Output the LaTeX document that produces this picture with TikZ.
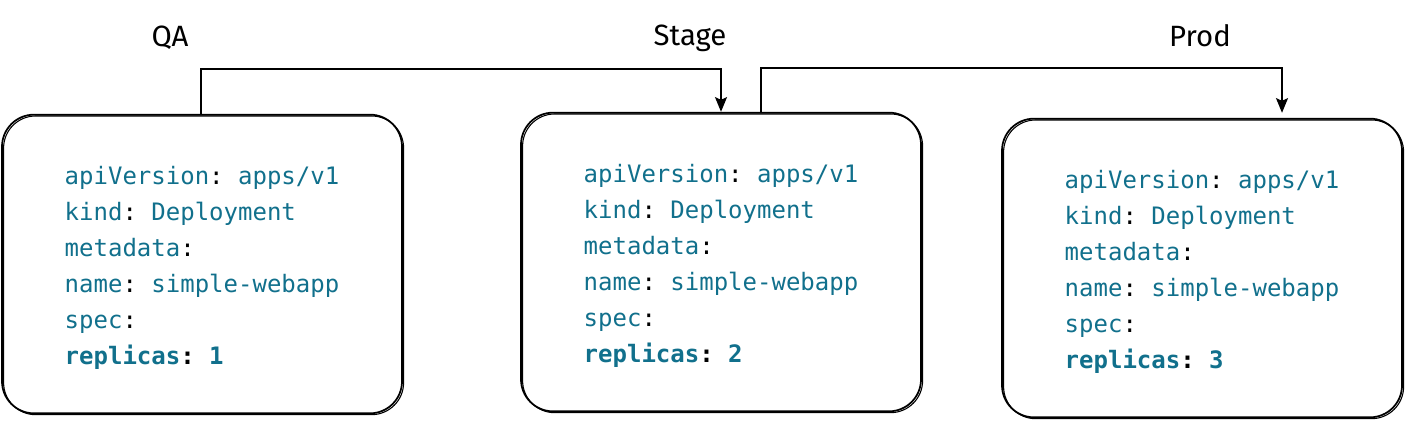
\documentclass[tikz,border=0pt]{standalone}
\usepackage{fontspec}
\setmonofont{DejaVu Sans Mono}
\newfontfamily\handfont{Fira Sans}
\usetikzlibrary{arrows.meta,positioning}

\definecolor{yamlteal}{HTML}{11708C}
\newcommand{\yk}[1]{\textcolor{yamlteal}{#1}}

\begin{document}
\begin{tikzpicture}[
        x=0.75pt, y=-0.75pt,
        yamlbox/.style={draw, line width=1.3pt, rounded corners=24pt, minimum width=300pt, minimum height=224pt, align=left, font=\ttfamily\fontsize{18}{27}\selectfont,
            postaction={draw, line width=0.8pt, rounded corners=24pt, transform canvas={shift={(1.2pt,-1pt)}}}},
        envlabel/.style={font=\handfont\fontsize{22}{26}\selectfont},
        flow/.style={-{Stealth[length=11pt,width=9pt,inset=2pt]}, line width=1.2pt}
    ]
        \useasboundingbox (0,0) rectangle (1406,434);

        \node[yamlbox] (qa) at (202,264) {\rule{0pt}{20pt}\yk{apiVersion}: \yk{apps/v1}\\\yk{kind}: \yk{Deployment}\\\yk{metadata}:\\\yk{name}: \yk{simple-webapp}\\\yk{spec}:\\\textbf{\yk{replicas}: \yk{1}}};
        \node[yamlbox] (stage) at (721,262) {\rule{0pt}{20pt}\yk{apiVersion}: \yk{apps/v1}\\\yk{kind}: \yk{Deployment}\\\yk{metadata}:\\\yk{name}: \yk{simple-webapp}\\\yk{spec}:\\\textbf{\yk{replicas}: \yk{2}}};
        \node[yamlbox] (prod) at (1202,268) {\rule{0pt}{20pt}\yk{apiVersion}: \yk{apps/v1}\\\yk{kind}: \yk{Deployment}\\\yk{metadata}:\\\yk{name}: \yk{simple-webapp}\\\yk{spec}:\\\textbf{\yk{replicas}: \yk{3}}};

        \node[envlabel] (qalbl) at (170,38) {QA};
        \node[envlabel] (stagelbl) at (690,38) {Stage};
        \node[envlabel] (prodlbl) at (1200,36) {Prod};

        \draw[flow] ([shift={(-1,0)}]qa.north) -- ++(0,-45) -| (stage.north);
        \draw[flow] ([shift={(40,0)}]stage.north) -- ++(0,-44) -| ([shift={(80,-5)}]prod.north);

    \end{tikzpicture}
\end{document}
